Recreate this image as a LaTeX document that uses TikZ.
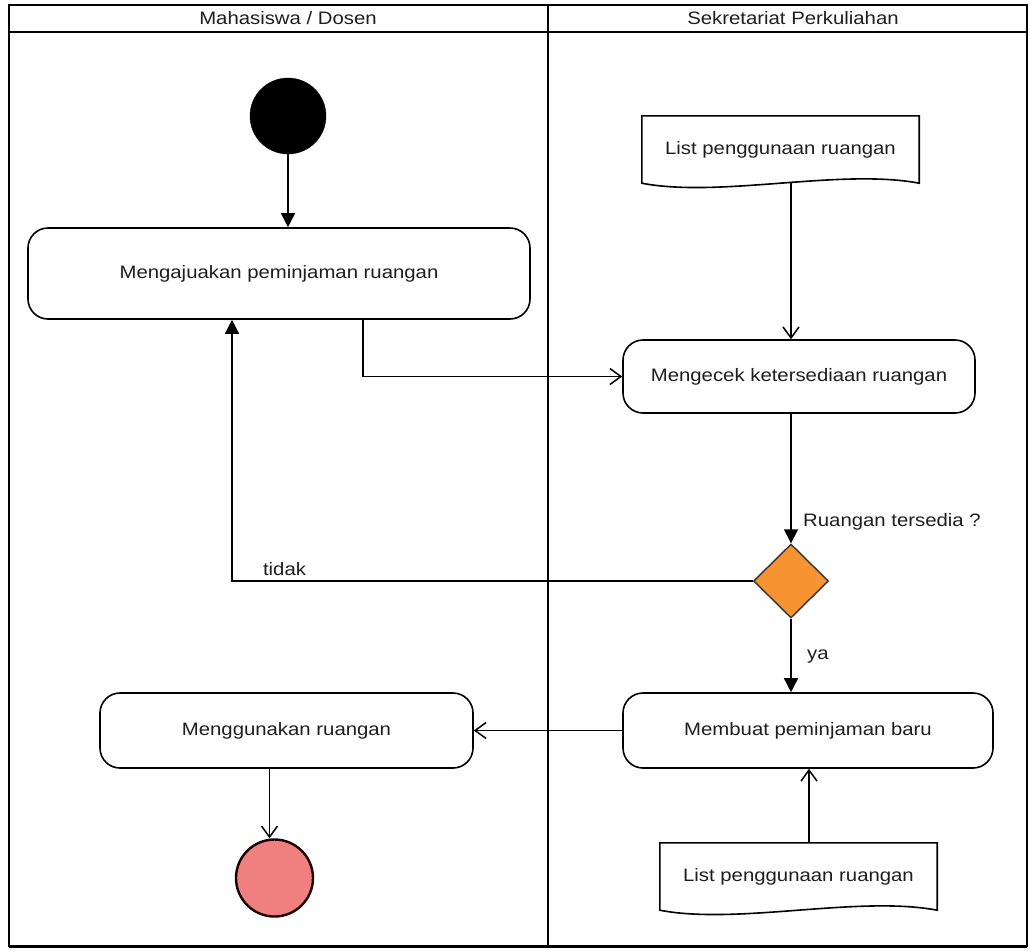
\documentclass[tikz,border=0pt]{standalone}
\usepackage{fontspec}
\setmainfont{Liberation Sans}[FakeStretch=1.13]
\usetikzlibrary{arrows.meta,shapes.geometric}

\definecolor{decisionfill}{RGB}{247,147,48}
\definecolor{finalfill}{RGB}{240,128,128}
\definecolor{inktext}{RGB}{30,30,30}
\definecolor{baseline}{RGB}{90,90,90}

\newcommand{\diagfont}{\fontsize{18}{21}\selectfont}

\begin{document}
\begin{tikzpicture}[x=1pt,y=-1pt,
  lane/.style={draw, line width=1.5pt},
  action/.style={draw, line width=1.6pt, rounded corners=20pt, inner sep=0pt,
    font=\diagfont, text=inktext, align=center},
  doctext/.style={inner sep=0pt, font=\diagfont, text=inktext},
  docline/.style={draw, line width=1.6pt},
  lbl/.style={inner sep=0pt, font=\diagfont, text=inktext},
  header/.style={inner sep=0pt, font=\diagfont, text=inktext},
  initial/.style={circle, fill=black, draw=black, minimum size=76pt, inner sep=0pt},
  final/.style={circle, fill=finalfill, draw=black!90!red, line width=2.4pt, minimum size=77pt, inner sep=0pt},
  decision/.style={diamond, aspect=1, fill=decisionfill, draw=black!80, line width=1.4pt,
    minimum width=75pt, minimum height=74pt, inner sep=0pt},
  flowfill/.style={line width=1.5pt, -{Triangle[length=14pt,width=14pt]}},
  flowopen/.style={line width=1.5pt, -{Straight Barb[length=11pt,width=16pt]}}
]
\useasboundingbox (0,0) rectangle (1030,951);

% swimlanes
\draw[lane] (9,5) rectangle (1027,946);
\draw[baseline, line width=3pt] (9,946.5) -- (1027,946.5);
\draw[lane] (9,32) -- (1027,32);
\draw[lane] (548,5) -- (548,946);
\node[header] (laneA) at (288,18.5) {Mahasiswa / Dosen};
\node[header] (laneB) at (793,18.5) {Sekretariat Perkuliahan};

% activity nodes
\node[initial] (start) at (288,116) {};
\node[action, minimum width=502pt, minimum height=91pt] (ask) at (279,273.5) {Mengajuakan peminjaman ruangan};
\node[doctext, minimum width=277pt, minimum height=67pt] (list1) at (780.5,149.5) {List penggunaan ruangan};
\node[action, minimum width=352pt, minimum height=73pt] (check) at (799,376.5) {Mengecek ketersediaan ruangan};
\node[decision] (avail) at (791,581) {};
\node[action, minimum width=370pt, minimum height=75pt] (create) at (808,730.5) {Membuat peminjaman baru};
\node[action, minimum width=373pt, minimum height=75pt] (use) at (286.5,730.5) {Menggunakan ruangan};
\node[doctext, minimum width=277pt, minimum height=67pt] (list2) at (798.5,876.5) {List penggunaan ruangan};
\node[final] (end) at (274.5,878) {};

% document outlines with wavy bottom edge
\draw[docline] (list1.north west) -- (list1.north east) -- (list1.south east)
  .. controls +(-79,-15) and +(78,15) .. (list1.south west) -- cycle;
\draw[docline] (list2.north west) -- (list2.north east) -- (list2.south east)
  .. controls +(-79,-15) and +(78,15) .. (list2.south west) -- cycle;

% guard labels
\node[lbl, anchor=west] (qlabel) at (803,522) {Ruangan tersedia ?};
\node[lbl] (nolabel) at (284.5,569) {tidak};
\node[lbl, anchor=west] (yeslabel) at (807,657) {ya};

% control flow
\draw[flowfill] (start.south) -- (start.south |- ask.north);
\draw[flowopen] ([xshift=84pt]ask.south) |- (check.west);
\draw[flowopen] (avail.north |- list1.south) -- (avail.north |- check.north);
\draw[flowfill] (avail.north |- check.south) -- (avail.north);
\draw[flowfill] (avail.west) -| ([xshift=-47pt]ask.south);
\draw[flowfill] (avail.south) -- (avail.south |- create.north);
\draw[flowopen] (create.west) -- (use.east);
\draw[flowopen] ([xshift=1pt]create.south |- list2.north) -- ([xshift=1pt]create.south);
\draw[flowopen] ([xshift=-5pt]end.north |- use.south) -- ([xshift=-5pt]end.north);
\end{tikzpicture}
\end{document}
